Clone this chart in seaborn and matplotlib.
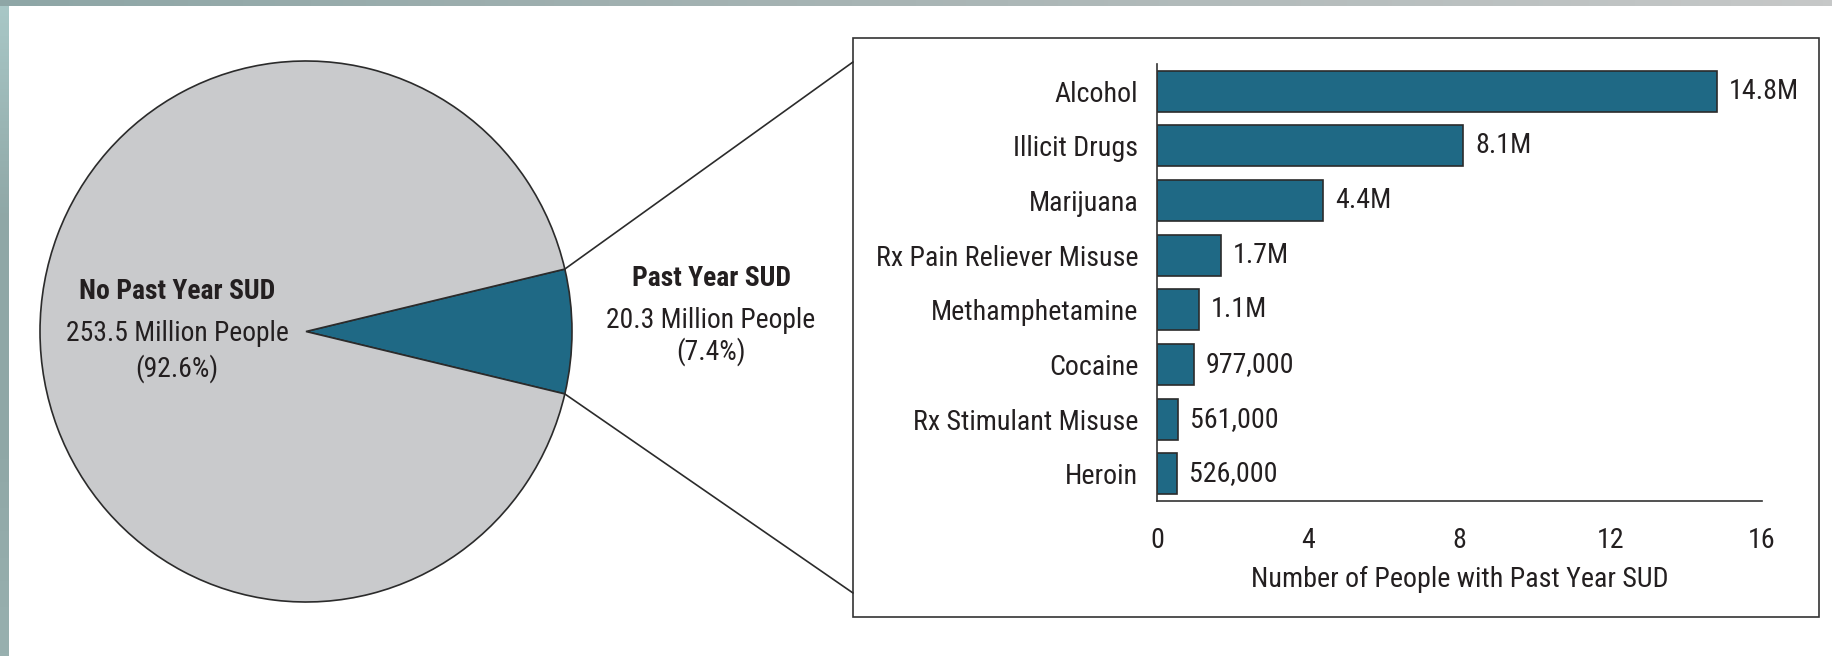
import numpy as np
import pandas as pd
import matplotlib
matplotlib.use("Agg")
import matplotlib.pyplot as plt
from matplotlib import font_manager
from matplotlib.colors import LinearSegmentedColormap
from matplotlib.lines import Line2D
from matplotlib.patches import Rectangle
import seaborn as sns

# ---- data -------------------------------------------------------------
pie_labels = ["Past Year SUD", "No Past Year SUD"]
pie_millions = [20.3, 253.5]
pie_percent = [7.4, 92.6]

substances = ["Alcohol", "Illicit Drugs", "Marijuana", "Rx Pain Reliever Misuse",
              "Methamphetamine", "Cocaine", "Rx Stimulant Misuse", "Heroin"]
people_millions = [14.8, 8.1, 4.4, 1.7, 1.1, 0.977, 0.561, 0.526]
value_labels = ["14.8M", "8.1M", "4.4M", "1.7M", "1.1M", "977,000", "561,000", "526,000"]
x_ticks = [0, 4, 8, 12, 16]
x_title = "Number of People with Past Year SUD"

# ---- style ------------------------------------------------------------
sns.set_theme(style="white")

# prefer a narrow sans face; fall back to the closest installed condensed variant
entries = font_manager.fontManager.ttflist
names = {f.name for f in entries}
FONT, STRETCH = None, "normal"
for cand in ["Liberation Sans Narrow", "Roboto Condensed", "Open Sans Condensed",
             "Noto Sans Condensed", "DejaVu Sans Condensed", "Arial Narrow"]:
    if cand in names:
        FONT = cand
        break
if FONT is None:
    for fam in ["Roboto", "Noto Sans", "Open Sans", "DejaVu Sans", "Liberation Sans"]:
        narrow = [f for f in entries if f.name == fam and "condensed" in str(f.stretch)]
        if narrow:
            FONT, STRETCH = fam, narrow[0].stretch
            break
if FONT is None:
    FONT = "Liberation Sans"

plt.rcParams["font.family"] = [FONT, "DejaVu Sans"]
plt.rcParams["font.stretch"] = STRETCH

TEXT = "#231f20"
TEAL = "#1f6985"
GREY = "#c9cacc"
EDGE = "#2b2b2b"

W, H = 1832, 656
fig = plt.figure(figsize=(W / 100, H / 100), dpi=100)
fig.patch.set_facecolor("white")
renderer = fig.canvas.get_renderer()


def fx(px):
    return px / W


def fy(py):
    return 1 - py / H


def fit_size(sample, target_px, base=21.0, cap=21.5):
    """Font size at which `sample` spans roughly target_px pixels."""
    t = fig.text(0, 0, sample, fontsize=base)
    width = t.get_window_extent(renderer).width
    t.remove()
    return min(cap, base * target_px / width)


bar_fs = fit_size("Rx Pain Reliever Misuse", 262)
pie_fs = fit_size("253.5 Million People", 223, cap=20.5)

# ---- page edge shading ------------------------------------------------
left_cmap = LinearSegmentedColormap.from_list("l", ["#a9c8c7", "#8fa7a6", "#8fa7a6", "#98b0af"])
ax_l = fig.add_axes([0, 0, fx(9), 1])
ax_l.imshow(np.linspace(0, 1, 200).reshape(-1, 1), aspect="auto", cmap=left_cmap)
ax_l.set_axis_off()
top_cmap = LinearSegmentedColormap.from_list("t", ["#8ea6a6", "#a9b5b5", "#c6c8c8"])
ax_t = fig.add_axes([0, fy(6), 1, 6 / H])
ax_t.imshow(np.linspace(0, 1, 400).reshape(1, -1), aspect="auto", cmap=top_cmap)
ax_t.set_axis_off()

# ---- pie --------------------------------------------------------------
pie_l, pie_r, pie_t, pie_b = 40, 572, 61, 602
ax_p = fig.add_axes([fx(pie_l), fy(pie_b), fx(pie_r - pie_l), (pie_b - pie_t) / H])
half = 180 * pie_millions[0] / sum(pie_millions)
wedges, _ = ax_p.pie(pie_millions, colors=[TEAL, GREY], startangle=-half,
                     wedgeprops=dict(edgecolor=EDGE, linewidth=1.2))
for w in wedges:
    w.set_clip_on(False)
ax_p.set_aspect("auto")
ax_p.set_xlim(-1, 1)
ax_p.set_ylim(-1, 1)
ax_p.set_axis_off()

fig.text(fx(177), fy(299), pie_labels[1], ha="center", va="baseline",
         fontsize=pie_fs, fontweight="bold", color=TEXT)
fig.text(fx(177), fy(341), f"{pie_millions[1]} Million People", ha="center",
         va="baseline", fontsize=pie_fs, color=TEXT)
fig.text(fx(177), fy(377), f"({pie_percent[1]}%)", ha="center", va="baseline",
         fontsize=pie_fs, color=TEXT)
fig.text(fx(711), fy(286), pie_labels[0], ha="center", va="baseline",
         fontsize=pie_fs, fontweight="bold", color=TEXT)
fig.text(fx(711), fy(328), f"{pie_millions[0]} Million People", ha="center",
         va="baseline", fontsize=pie_fs, color=TEXT)
fig.text(fx(711), fy(360), f"({pie_percent[0]}%)", ha="center", va="baseline",
         fontsize=pie_fs, color=TEXT)

# ---- breakout box and connectors --------------------------------------
box_l, box_r, box_t, box_b = 853, 1819, 38, 617
fig.add_artist(Rectangle((fx(box_l), fy(box_b)), fx(box_r - box_l), (box_b - box_t) / H,
                         transform=fig.transFigure, fill=False, edgecolor="#333333",
                         linewidth=1.2))
theta = np.deg2rad(half)
to_fig = fig.transFigure.inverted()
for sign, box_y in [(1, 62), (-1, 593)]:
    corner = ax_p.transData.transform((np.cos(theta), sign * np.sin(theta)))
    cx, cy = to_fig.transform(corner)
    fig.add_artist(Line2D([cx, fx(box_l)], [cy, fy(box_y)], transform=fig.transFigure,
                          color=EDGE, linewidth=1.2))

# ---- bar chart --------------------------------------------------------
ax_b = fig.add_axes([fx(1157), fy(501), fx(1762 - 1157), (501 - 64) / H])
df = pd.DataFrame({"substance": substances, "people": people_millions})
sns.barplot(data=df, x="people", y="substance", orient="h", color=TEAL, saturation=1,
            edgecolor=EDGE, linewidth=1.2, width=0.75, ax=ax_b)
ax_b.bar_label(ax_b.containers[0], labels=value_labels, padding=8.5, fontsize=bar_fs,
               color=TEXT)
ax_b.set_xlim(0, 16)
ax_b.set_ylim(7.5, -0.5)
ax_b.set_xticks(x_ticks)
ax_b.set_xticklabels([str(t) for t in x_ticks])
ax_b.set_ylabel("")
ax_b.set_xlabel(x_title, fontsize=bar_fs, color=TEXT, labelpad=8)
ax_b.tick_params(axis="both", length=0, labelsize=bar_fs, colors=TEXT)
ax_b.tick_params(axis="y", pad=13.5)
ax_b.tick_params(axis="x", pad=19)
ax_b.set_facecolor("none")
for side in ["top", "right"]:
    ax_b.spines[side].set_visible(False)
for side in ["left", "bottom"]:
    ax_b.spines[side].set_color("#333333")
    ax_b.spines[side].set_linewidth(1.2)

fig.savefig("out.png", dpi=100)
